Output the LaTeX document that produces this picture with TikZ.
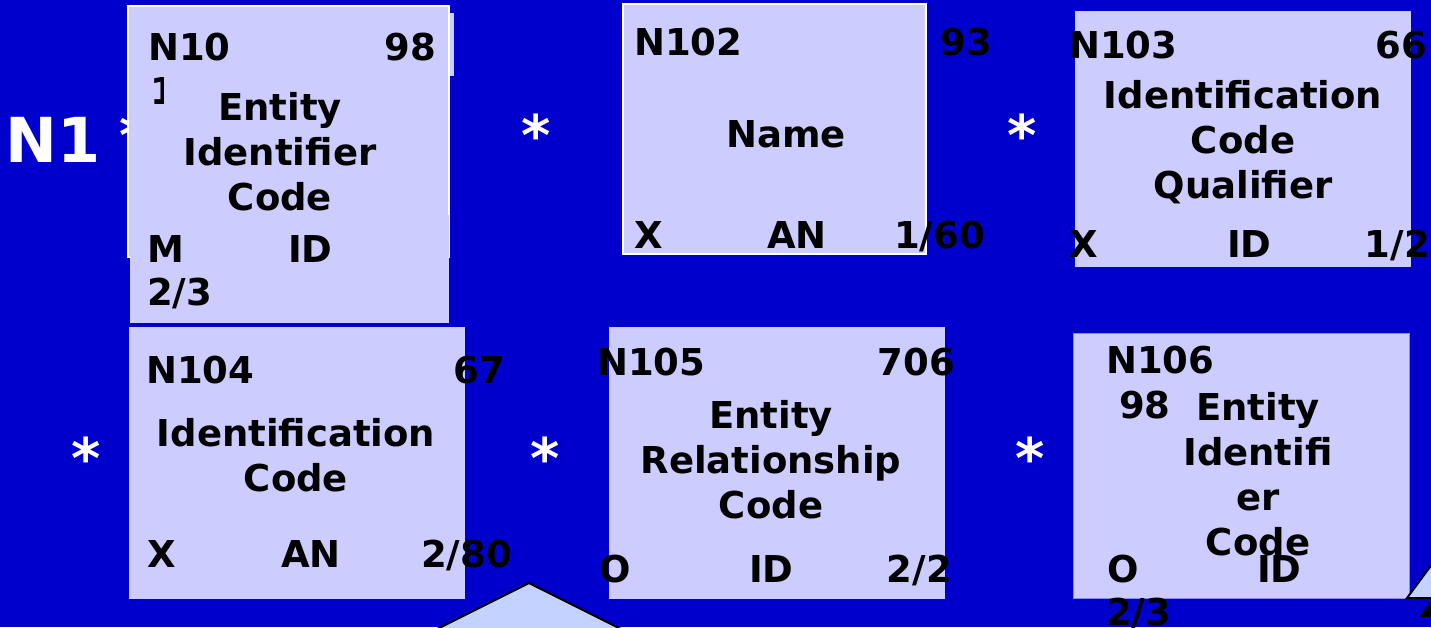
\documentclass[tikz,border=0pt]{standalone}
\usepackage{fontspec}
\setmainfont{DejaVu Sans}
\usepackage{tikz}
\usetikzlibrary{positioning}
\definecolor{slideblue}{HTML}{0000CC}
\definecolor{boxfill}{HTML}{CCCCFF}
\definecolor{trifill}{HTML}{C4D2FF}
\definecolor{boxedge}{HTML}{8A8AF0}
\newcommand{\boxfont}{\fontsize{37}{45}\selectfont\bfseries}

\begin{document}
\begin{tikzpicture}[x=1pt, y=-1pt,
    lbl/.style={font=\boxfont, text=black, inner sep=0pt},
    title/.style={lbl, align=center, anchor=base},
    star/.style={font=\fontsize{56}{60}\selectfont\bfseries, text=white, inner sep=0pt, anchor=north}]
        % Slide background
        \fill[slideblue] (0,0) rectangle (1431,627);
        \useasboundingbox (0,0) rectangle (1431,627);

        \node[font=\fontsize{62}{70}\selectfont\bfseries, text=white, inner sep=0pt, anchor=base west] (seg) at (5,162) {N1};
        \node[star] (s1) at (134,114) {*};

        % N101 Entity Identifier Code (title anchored on its last line)
        \fill[boxfill] (129,7) rectangle (448,257);
        \fill[boxfill] (448,13) rectangle (454,76);
        \draw[white, line width=1.5pt] (128,6) rectangle (449,257);
        \fill[boxfill] (129.5,215) rectangle (448.5,323);
        \node[lbl, anchor=base west] (n101a) at (148,60) {N10};
        \begin{scope}
            \clip (140,70) rectangle (163,112);
            \node[lbl, anchor=base west] (n101b) at (150,104) {1};
        \end{scope}
        \node[lbl, anchor=base east] (n101r) at (436,60) {98};
        \node[title] (n101t) at (280,210) {Entity\\Identifier\\Code};
        \node[lbl, anchor=base west] (n101m) at (147,262) {M};
        \node[lbl, anchor=base west] (n101d) at (288,262) {ID};
        \node[lbl, anchor=base west] (n101l) at (147,305) {2/3};

        \node[star] (s2) at (536,114) {*};

        % N102 Name
        \draw[fill=boxfill, draw=white, line width=1.5pt] (623,4) rectangle (926,254);
        \node[lbl, anchor=base west] (n102a) at (634,55) {N102};
        \node[lbl, anchor=base east] (n102r) at (992,55) {93};
        \node[title] (n102t) at (786,147) {Name};
        \node[lbl, anchor=base west] (n102m) at (634,248) {X};
        \node[lbl, anchor=base west] (n102d) at (767,248) {AN};
        \node[lbl, anchor=base east] (n102l) at (985,248) {1/60};

        \node[star] (s3) at (1022,114) {*};

        % N103 Identification Code Qualifier
        \fill[boxfill] (1075,11) rectangle (1411,267);
        \node[lbl, anchor=base west] (n103a) at (1069,58) {N103};
        \node[lbl, anchor=base east] (n103r) at (1427,58) {66};
        \node[title] (n103t) at (1243,198) {Identification\\Code\\Qualifier};
        \node[lbl, anchor=base west] (n103m) at (1069,257) {X};
        \node[lbl, anchor=base west] (n103d) at (1227,257) {ID};
        \node[lbl, anchor=base east] (n103l) at (1430,257) {1/2};

        \node[star] (s4) at (86,437) {*};

        % N104 Identification Code
        \fill[boxfill] (129,327) rectangle (465,599);
        \node[lbl, anchor=base west] (n104a) at (146,383) {N104};
        \node[lbl, anchor=base east] (n104r) at (505,383) {67};
        \node[title] (n104t) at (296,491) {Identification\\Code};
        \node[lbl, anchor=base west] (n104m) at (147,567) {X};
        \node[lbl, anchor=base west] (n104d) at (281,567) {AN};
        \node[lbl, anchor=base east] (n104l) at (512,567) {2/80};

        \node[star] (s5) at (545,437) {*};

        % N105 Entity Relationship Code
        \fill[boxfill] (609,327) rectangle (945,599);
        \node[lbl, anchor=base west] (n105a) at (597,375) {N105};
        \node[lbl, anchor=base east] (n105r) at (955,375) {706};
        \node[title] (n105t) at (771,518) {Entity\\Relationship\\Code};
        \node[lbl, anchor=base west] (n105m) at (599,582) {O};
        \node[lbl, anchor=base west] (n105d) at (749,582) {ID};
        \node[lbl, anchor=base east] (n105l) at (952,582) {2/2};

        \node[star] (s6) at (1030,437) {*};

        % N106 Entity Identifier Code
        \draw[fill=boxfill, draw=boxedge, line width=0.8pt] (1073,333) rectangle (1409,598);
        \node[lbl, anchor=base west] (n106a) at (1106,373) {N106};
        \node[lbl, anchor=base west] (n106r) at (1119,418) {98};
        \node[title] (n106t) at (1258,555) {Entity\\Identifi\\er\\Code};
        \node[lbl, anchor=base west] (n106m) at (1107,582) {O};
        \node[lbl, anchor=base west] (n106d) at (1257,582) {ID};
        \node[lbl, anchor=base west] (n106l) at (1106,625) {2/3};

        % Triangles at the bottom
        \filldraw[fill=trifill, draw=black, line width=2pt] (431,632) -- (529,583) -- (627,632);
        \filldraw[fill=trifill, draw=black, line width=2pt] (1407,598) -- (1441,552) -- (1441,598) -- cycle;
        \fill[black] (1419,617) -- (1432,600) -- (1432,617) -- cycle;
    \end{tikzpicture}
\end{document}
